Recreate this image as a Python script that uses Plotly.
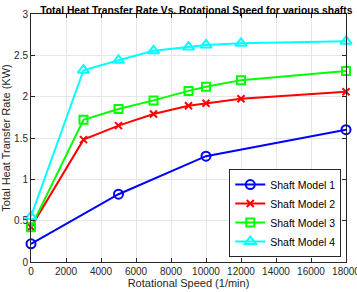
import plotly.graph_objects as go

speed1 = [0, 5000, 10000, 18000]
model1 = [0.22, 0.82, 1.28, 1.60]
speed = [0, 3000, 5000, 7000, 9000, 10000, 12000, 18000]
model2 = [0.42, 1.48, 1.65, 1.79, 1.89, 1.92, 1.975, 2.06]
model3 = [0.42, 1.72, 1.85, 1.955, 2.07, 2.12, 2.20, 2.31]
model4 = [0.55, 2.32, 2.44, 2.555, 2.60, 2.625, 2.645, 2.67]
names = ["Shaft Model 1", "Shaft Model 2", "Shaft Model 3", "Shaft Model 4"]
colors = ["#0000ff", "#ff0000", "#00ff00", "#00ffff"]
symbols = ["circle-open", "x-thin-open", "square-open", "triangle-up-open"]
sizes = [9, 7, 8, 10]
xs = [speed1, speed, speed, speed]
ys = [model1, model2, model3, model4]

fig = go.Figure()
for x, y, n, c, s, sz in zip(xs, ys, names, colors, symbols, sizes):
    fig.add_trace(go.Scatter(
        x=x, y=y, name=n, mode="lines+markers",
        line=dict(color=c, width=2),
        marker=dict(symbol=s, size=sz, color=c, line=dict(color=c, width=2)),
        cliponaxis=False,
    ))

axis_common = dict(
    showline=True, linecolor="#262626", linewidth=1, mirror="ticks",
    ticks="inside", ticklen=4, tickcolor="#262626",
    showgrid=True, gridcolor="#e6e6e6", gridwidth=1, zeroline=False,
    tickfont=dict(size=10, color="#262626"), automargin=False,
)
fig.update_xaxes(range=[0, 18000], dtick=2000, tickformat="d", ticklabeloverflow="allow",
                 title=dict(text="Rotational Speed (1/min)", font=dict(size=11, color="#262626"), standoff=2),
                 **axis_common)
fig.update_yaxes(range=[0, 3], dtick=0.5,
                 title=dict(text="Total Heat Transfer Rate (KW)", font=dict(size=11, color="#262626"), standoff=4),
                 **axis_common)

fig.update_layout(
    width=357, height=292,
    margin=dict(l=31, r=11, t=14, b=30, autoexpand=False),
    paper_bgcolor="white", plot_bgcolor="white",
    font=dict(family="Liberation Sans, Arial, sans-serif", color="#262626"),
    title=dict(text="<b>Total Heat Transfer Rate Vs. Rotational Speed for various shafts</b>",
               font=dict(size=10.3, color="black"), x=0.55, xanchor="center", y=0.966, yanchor="middle",
               automargin=False),
    legend=dict(x=0.985, y=0.02, xanchor="right", yanchor="bottom",
                bordercolor="#262626", borderwidth=1, bgcolor="white",
                font=dict(size=10.5, color="black"), tracegroupgap=0, itemwidth=30),
    showlegend=True,
)
fig.write_html("out.html", config={"displayModeBar": False},
               post_script="document.body.style.margin='0';")
